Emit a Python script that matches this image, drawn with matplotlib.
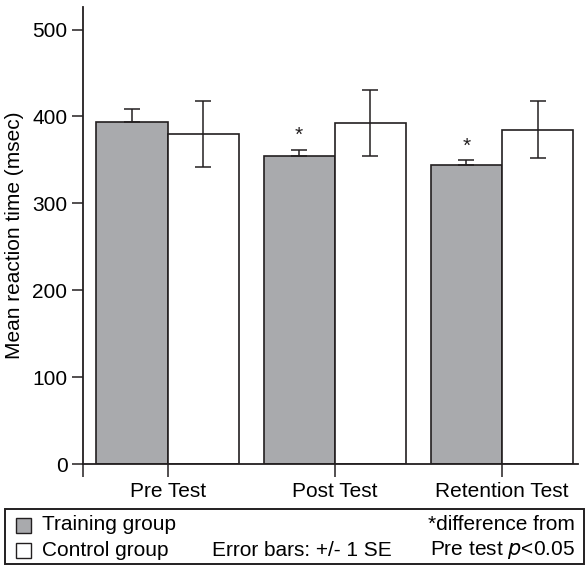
import matplotlib.pyplot as plt
from matplotlib.patches import Rectangle
import numpy as np

plt.rcParams['font.family'] = ['Liberation Sans', 'DejaVu Sans']

tests = ['Pre Test', 'Post Test', 'Retention Test']
training_mean = [394, 354, 344]
training_se = [15, 8, 6]
control_mean = [380, 392, 385]
control_se = [38, 38, 33]
significant = [False, True, True]

gray = '#a9aaad'
dark = '#231f20'
fs = 15

fig = plt.figure(figsize=(5.88, 5.66), dpi=100)
ax = fig.add_axes([0.1406, 0.1802, 0.983 - 0.1406, 0.9876 - 0.1802])

x = np.arange(len(tests))
w = 0.426
err_kw = dict(ecolor=dark, elinewidth=1.1, capsize=6, capthick=1.1)
# lower half of the training error bar is hidden by the grey bar
ax.bar(x - w / 2, training_mean, w, yerr=[np.zeros(3), training_se], color=gray,
       edgecolor=dark, linewidth=1.2, error_kw=err_kw, zorder=2)
ax.bar(x + w / 2, control_mean, w, yerr=control_se, color='white',
       edgecolor=dark, linewidth=1.2, error_kw=err_kw, zorder=2)

for i, sig in enumerate(significant):
    if sig:
        ax.text(x[i] - w / 2, training_mean[i] + training_se[i] + 5, '*',
                ha='center', va='bottom', fontsize=fs, color=dark)

xl = -0.508
ax.set_xlim(xl, 2.455)
ax.set_ylim(0, 526)
ax.set_yticks(range(0, 501, 100))
ax.set_xticks([xl, 0, 1, 2])
ax.set_xticklabels([''] + tests)
ax.tick_params(axis='x', length=9, width=1.1, color=dark, pad=4, labelsize=fs)
ax.tick_params(axis='y', length=8, width=1.1, color=dark, pad=3, labelsize=fs)
ax.spines['top'].set_visible(False)
ax.spines['right'].set_visible(False)
for s in ['left', 'bottom']:
    ax.spines[s].set_linewidth(1.3)
    ax.spines[s].set_color(dark)
ax.set_ylabel('Mean reaction time (msec)', fontsize=fs, labelpad=6)

# legend box below the axes
fig.add_artist(Rectangle((5 / 588, 1 - 564 / 566), 579 / 588, 55 / 566,
                         transform=fig.transFigure, fill=False,
                         edgecolor=dark, linewidth=1.4))
sq_w, sq_h = 15 / 588, 15 / 566
row1 = 1 - 525 / 566
row2 = 1 - 550 / 566
fig.add_artist(Rectangle((16 / 588, row1 - sq_h / 2), sq_w, sq_h,
                         transform=fig.transFigure, facecolor=gray,
                         edgecolor=dark, linewidth=1.0))
fig.add_artist(Rectangle((16 / 588, row2 - sq_h / 2), sq_w, sq_h,
                         transform=fig.transFigure, facecolor='white',
                         edgecolor=dark, linewidth=1.0))
fig.text(42 / 588, row1, 'Training group', va='center', fontsize=fs)
fig.text(42 / 588, row2, 'Control group', va='center', fontsize=fs)
fig.text(212 / 588, row2, 'Error bars: +/- 1 SE', va='center', fontsize=fs)
fig.text(575 / 588, row1, '*difference from', va='center', ha='right', fontsize=fs)
fig.text(575 / 588, row2, 'Pre test $\\it{p}$<0.05', va='center', ha='right',
         fontsize=fs)

fig.savefig('out.png', dpi=100)
